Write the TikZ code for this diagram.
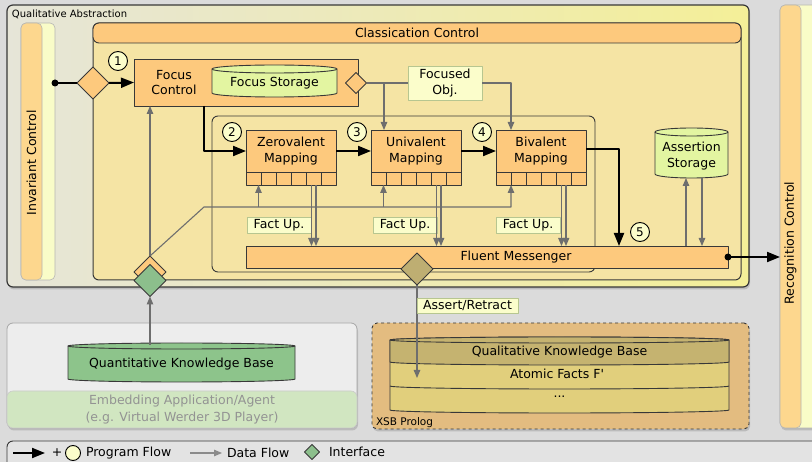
\documentclass[tikz,border=0pt]{standalone}
\usepackage{fontspec}
\setmainfont{DejaVu Sans}
\newfontfamily\plainapos{DejaVu Sans}
\usetikzlibrary{arrows.meta,shapes.geometric,shadows,calc}

\definecolor{bggray}{HTML}{DBDBDB}
\definecolor{edge}{HTML}{383838}
\definecolor{boxorange}{HTML}{FDC97D}
\definecolor{colorange}{HTML}{FDD78E}
\definecolor{colline}{HTML}{B5B5B5}
\definecolor{paleyellow}{HTML}{F9FCC8}
\definecolor{tagfill}{HTML}{FBFDCB}
\definecolor{tagline}{HTML}{B7C690}
\definecolor{storegreen}{HTML}{E3F5A1}
\definecolor{bodytan}{HTML}{F5E4A4}
\definecolor{qaleft}{HTML}{E6E5D8}
\definecolor{qaright}{HTML}{F4EF98}
\definecolor{ifgreen}{HTML}{8CBF8C}
\definecolor{ifolive}{HTML}{BEAE72}
\definecolor{qkbgreen}{HTML}{8DC48B}
\definecolor{embgray}{HTML}{EDEDED}
\definecolor{embline}{HTML}{A6A6A6}
\definecolor{embgreen}{HTML}{D1E6C1}
\definecolor{embtext}{HTML}{939393}
\definecolor{xsbtan}{HTML}{E3BC80}
\definecolor{kbtop}{HTML}{C5B370}
\definecolor{kbband}{HTML}{E1CF7C}
\definecolor{dgray}{HTML}{6E6E6E}
\definecolor{leggray}{HTML}{E3E3E3}

% cylinder outline: x1, y of top ellipse centre, x2, y of bottom ellipse centre, y radius, style
\newcommand\cylbody[6]{%
  \pgfmathsetmacro\cylrx{(#3-#1)/2}%
  \path[#6] (#1,#2) -- (#1,#4)
    arc[start angle=180,end angle=0,x radius=\cylrx,y radius=#5] -- (#3,#2)
    arc[start angle=0,end angle=-180,x radius=\cylrx,y radius=#5] -- cycle;
  \path[#6,fill=none] (#1,#2) arc[start angle=180,end angle=0,x radius=\cylrx,y radius=#5];
}

\begin{document}
\begin{tikzpicture}[x=1pt,y=-1pt,line join=round,
  font=\fontsize{12.5}{15.5}\selectfont,
  every node/.style={inner sep=0pt,outer sep=0pt},
  orangebox/.style={draw=edge,fill=boxorange,line width=0.9pt},
  tag/.style={draw=tagline,fill=tagfill,line width=0.8pt,inner xsep=3pt,inner ysep=1pt},
  num/.style={circle,draw=black,fill=tagfill,line width=0.9pt,minimum size=19pt,font=\fontsize{12}{12}\selectfont},
  flow/.style={line width=2pt,-{Triangle[length=13pt,width=10pt]}},
  datapath/.style={line width=1.1pt,draw=dgray,-{Triangle[length=8pt,width=6.5pt]}},
  plainpath/.style={line width=1.1pt,draw=dgray},
  dia/.style={diamond,draw=edge,line width=0.9pt,minimum size=32pt,aspect=1},
  column/.style={rounded corners=5pt,draw=colline,line width=0.6pt},
  port/.style={draw=edge,fill=boxorange,line width=0.8pt,minimum width=15pt,minimum height=13pt},
  shade/.style={drop shadow={shadow xshift=1pt,shadow yshift=-2.5pt,opacity=0.35}},
  store/.style={draw=edge,fill=storegreen,line width=0.9pt}]

\fill[bggray] (0,0) rectangle (812,462);
\useasboundingbox (0,0) rectangle (812,462);

% ---- Recognition Control column
\node[column,fill=paleyellow,minimum width=60pt,minimum height=423pt,shade] (rec) at (810,216.5) {};
\draw[column,fill=colorange] (780,5) rectangle (801,428);
\node[rotate=90] (rectext) at (790.5,243) {Recognition Control};

% ---- Qualitative Abstraction frame
\node[draw=edge,line width=1.2pt,rounded corners=6pt,left color=qaleft,right color=qaright,
      minimum width=742pt,minimum height=282pt,shade] (qa) at (378,146) {};
\node[anchor=west,font=\fontsize{10}{12}\selectfont] (qalabel) at (12,14) {Qualitative Abstraction};

% ---- Invariant Control column
\node[column,fill=paleyellow,minimum width=34pt,minimum height=257pt] (inv) at (38,151.5) {};
\draw[column,fill=colorange] (21,23) rectangle (42,280);
\node[rotate=90] (invtext) at (31.5,163) {Invariant Control};

% ---- Classication Control
\node[draw=edge,fill=bodytan,line width=1pt,rounded corners=6pt,minimum width=648pt,minimum height=257pt] (cc) at (417,151.5) {};
\node[orangebox,rounded corners=6pt,minimum width=648pt,minimum height=20pt] (cch) at (417,33) {Classication Control};

% mapping group
\node[draw=edge,line width=0.9pt,rounded corners=6pt,minimum width=383pt,minimum height=156pt] (grp) at (403.5,194) {};

% ---- Focus Control
\coordinate (start) at (55,83);
\node[dia,fill=boxorange] (d1) at (93,83) {};
\node[orangebox,minimum width=224pt,minimum height=47pt] (fc) at (246,82.5) {};
\node[align=center] (fctext) at (174,82.5) {Focus\\Control};
\cylbody{212}{69}{337}{93}{4}{store}
\node (fs) at (274.5,83) {Focus Storage};
\node[dia,fill=boxorange,minimum size=21pt] (sd) at (356,83) {};
\node[tag,align=center,minimum width=74pt,minimum height=34pt] (fo) at (445,83) {Focused\\Obj.};

% ---- Mappings
\node[orangebox,align=center,minimum width=90pt,minimum height=42pt] (zero) at (291,151) {Zerovalent\\Mapping};
\node[orangebox,align=center,minimum width=90pt,minimum height=42pt] (uni) at (416,151) {Univalent\\Mapping};
\node[orangebox,align=center,minimum width=90pt,minimum height=42pt] (bi) at (541,151) {Bivalent\\Mapping};
\foreach \i in {1,...,6} {
  \node[port] (z\i) at ({246+15*\i-7.5},178.5) {};
  \node[port] (u\i) at ({371+15*\i-7.5},178.5) {};
  \node[port] (b\i) at ({496+15*\i-7.5},178.5) {};
}

% ---- Assertion Storage
\cylbody{655}{132}{728}{174}{4}{store}
\node[align=center] (as) at (691.5,156) {Assertion\\Storage};
\coordinate (asbot) at (691.5,178);

% ---- Fact Up labels
\node[tag,minimum width=64pt,minimum height=16pt] (fu1) at (279,225) {Fact Up.};
\node[tag,minimum width=64pt,minimum height=16pt] (fu2) at (405,225) {Fact Up.};
\node[tag,minimum width=64pt,minimum height=16pt] (fu3) at (528,225) {Fact Up.};

% ---- Fluent Messenger
\node[orangebox,minimum width=482pt,minimum height=22pt] (fm) at (487,257) {};
\node (fmtext) at (516,257) {Fluent Messenger};

% ---- interface diamonds at the bottom of the frame
\node[dia,fill=boxorange] (ifo) at (150,272) {};
\node[dia,fill=ifgreen] (ifg) at (150,280.5) {};

% ---- data flow
\coordinate (bend) at (204,207);
\coordinate (zin) at ([xshift=5pt]z1.south);
\coordinate (uin) at ([xshift=5pt]u1.south);
\coordinate (unitop) at ([xshift=13pt]uni.north west);
\coordinate (bitop) at ([xshift=15pt]bi.north west);
\draw[datapath] (ifo.north) -- (ifo.north |- fc.south);
\draw[datapath] (ifo.north) -- (bend) -- (bend -| b1.south east) -- (b1.south east);
\draw[datapath] (bend -| zin) -- (zin);
\draw[datapath] (bend -| uin) -- (uin);
\draw[plainpath] (sd.east) -- (fo.west);
\draw[datapath] (fo.east) -- (fo.east -| bitop) -- (bitop);
\draw[datapath] (sd.east -| unitop) -- (unitop);
\foreach \p in {z,u,b} {
  \coordinate (\p out1) at ([xshift=-2pt]\p5.south);
  \coordinate (\p out2) at ([xshift=2.5pt]\p5.south);
  \draw[datapath] (\p out1) -- (fm.north -| \p out1);
  \draw[datapath] (\p out2) -- (fm.north -| \p out2);
}
\coordinate (asup) at (686,0);
\coordinate (asdown) at (702,0);
\draw[datapath] (fm.north -| asup) -- (asbot -| asup);
\draw[datapath] (asbot -| asdown) -- (fm.north -| asdown);

% ---- program flow
\coordinate (fmx) at (619,0);
\coordinate (fm5) at (fm.north -| fmx);
\draw[line width=2pt] (start) -- (d1.west);
\fill (start) circle[radius=3.5];
\draw[flow] (d1.east) -- (fc.west);
\draw[flow] ([xshift=-42pt]fc.south) |- (zero.west);
\draw[flow] (zero.east) -- (uni.west);
\draw[flow] (uni.east) -- (bi.west);
\draw[flow] ([yshift=2pt]bi.east) -| (fm5);
\draw[flow] (fm.east) -- (rec.west |- fm.east);
\fill (fm.east) circle[radius=3.5];

% ---- step numbers
\node[num] (n1) at (118,61) {1};
\node[num] (n2) at (232,132) {2};
\node[num] (n3) at (357,132) {3};
\node[num] (n4) at (482,132) {4};
\node[num] (n5) at (640,232) {5};

% ---- Fluent Messenger interface
\node[dia,fill=ifolive] (ifa) at (417,269) {};

% ---- Embedding application
\node[draw=embline,fill=embgray,rounded corners=6pt,line width=0.8pt,minimum width=350pt,minimum height=105pt,shade] (emb) at (182,375.5) {};
\draw[draw=embline!60,fill=embgreen,rounded corners=6pt,line width=0.6pt] (7,391) rectangle (357,428);
\node[text=embtext] (embt1) at (182,401) {Embedding Application/Agent};
\node[text=embtext] (embt2) at (182,418) {(e.g. Virtual Werder 3D Player)};
\cylbody{68}{346}{295}{379}{3}{draw=edge,fill=qkbgreen,line width=0.9pt}
\node (qkb) at (181.5,364) {Quantitative Knowledge Base};
\coordinate (qkbtop) at (150,345);
\draw[datapath] (qkbtop) -- (ifg.south);

% ---- XSB Prolog
\node[draw=edge,dashed,line width=0.9pt,fill=xsbtan,rounded corners=5pt,minimum width=377pt,minimum height=106pt,shade] (xsb) at (560.5,376) {};
\node[anchor=west,font=\fontsize{10.5}{12}\selectfont] (xsbl) at (376,423) {XSB Prolog};
\cylbody{390}{340}{729}{410}{3}{draw=edge,fill=kbband,line width=0.9pt}
\path[draw=edge,fill=kbtop,line width=0.9pt] (390,340) -- (390,362)
  arc[start angle=180,end angle=0,x radius=169.5,y radius=3] -- (729,340)
  arc[start angle=0,end angle=-180,x radius=169.5,y radius=3] -- cycle;
\draw[edge,line width=0.9pt] (390,340) arc[start angle=180,end angle=0,x radius=169.5,y radius=3];
\draw[edge,line width=0.9pt] (390,386) arc[start angle=180,end angle=0,x radius=169.5,y radius=3];
\node (kb1) at (559.5,352) {Qualitative Knowledge Base};
\node (kb2) at (557,374) {Atomic Facts F{\plainapos '}};
\node (kb3) at (559.5,397) {...};
\coordinate (kbin) at (417,378);
\draw[datapath] (ifa.south) -- (kbin);
\node[tag,anchor=west,minimum height=15pt,minimum width=101pt] (ar) at (417,305.5) {Assert/Retract};

% ---- legend
\node[draw=edge,fill=leggray,rounded corners=6pt,line width=0.9pt,minimum width=823pt,minimum height=34pt] (leg) at (418.5,458) {};
\coordinate (la) at (13,453);
\coordinate (lb) at (45,453);
\draw[flow] (la) -- (lb);
\node (lplus) at (57,453) {+};
\node[num,minimum size=15pt] (lc) at (73,453) {};
\node[anchor=west] (lpf) at (86,453) {Program Flow};
\coordinate (lc1) at (190,453);
\coordinate (lc2) at (222,453);
\draw[datapath,draw=dgray!80] (lc1) -- (lc2);
\node[anchor=west] (ldf) at (227,453) {Data Flow};
\node[dia,fill=ifgreen,minimum size=15pt] (ld) at (312,452) {};
\node[anchor=west] (lif) at (329,452) {Interface};
\end{tikzpicture}
\end{document}
